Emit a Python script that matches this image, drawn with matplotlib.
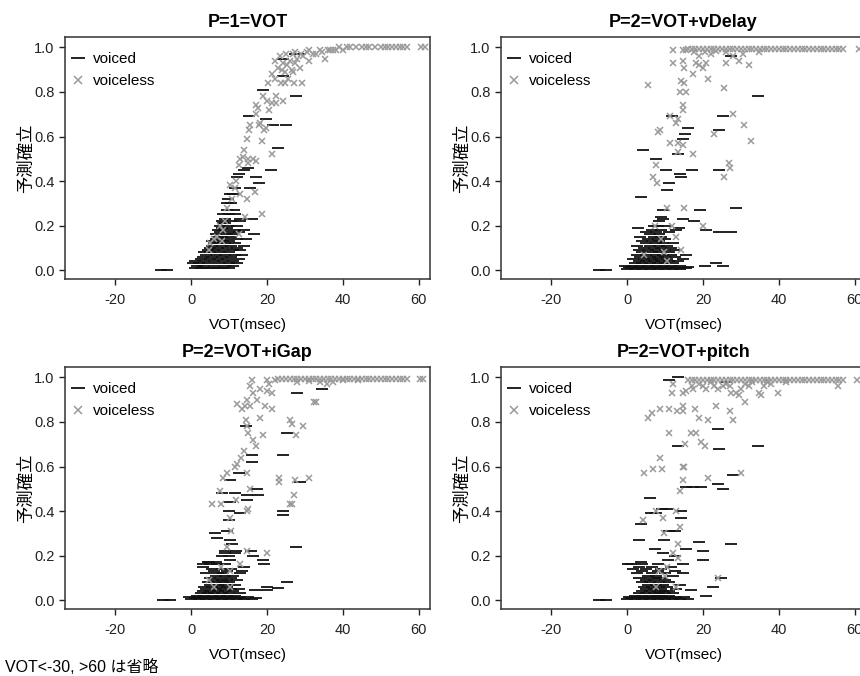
import matplotlib
matplotlib.use("Agg")
import matplotlib.pyplot as plt

plt.rcParams['font.family'] = ['Liberation Sans', 'Noto Sans CJK JP', 'DejaVu Sans']

titles = ["P=1=VOT", "P=2=VOT+vDelay", "P=2=VOT+iGap", "P=2=VOT+pitch"]
x_ticks = [-20, 0, 20, 40, 60]
y_ticks = [0.0, 0.2, 0.4, 0.6, 0.8, 1.0]
y_label = "予測確立"
x_label = "VOT(msec)"
note = "VOT<-30, >60 は省略"

# voiced tokens: (predicted prob, [VOT values at that level])
p1_voiced = [
    (0.002, [-8.0, -6.3]),
    (0.01, [1, 2.5, 4, 5.5, 7, 8.5, 10]),
    (0.02, [1.5, 3, 6, 9, 11]),
    (0.03, [0.5, 2, 4.5, 7.5, 10, 12]),
    (0.04, [1, 3.5, 6, 8.5, 11]),
    (0.05, [2.5, 5, 7, 9.5, 12.5]),
    (0.06, [3, 5.5, 8, 10.5]),
    (0.07, [4, 6.5, 9, 11.5, 13.5]),
    (0.08, [3.5, 5, 7.5, 10]),
    (0.09, [4.5, 6, 8.5, 11, 13]),
    (0.10, [5, 7, 9.5, 12]),
    (0.11, [5.5, 8, 10.5, 14]),
    (0.12, [6, 7.5, 9, 11.5]),
    (0.13, [5.5, 8.5, 10]),
    (0.14, [6.5, 9, 12, 14.5]),
    (0.15, [7, 8, 10.5]),
    (0.16, [6.5, 9.5, 11, 16.5]),
    (0.17, [7.5, 10, 12.5]),
    (0.18, [7, 8.5, 11.5, 14]),
    (0.19, [8, 9.5]),
    (0.20, [7.5, 10, 12]),
    (0.21, [8.5, 9]),
    (0.22, [8, 10.5, 13]),
    (0.23, [9, 12.9, 16.1]),
    (0.25, [8.5, 10, 11.5]),
    (0.27, [9.5, 11.2]),
    (0.30, [9.4, 10.5]),
    (0.32, [9.8]),
    (0.34, [10.3, 11]),
    (0.37, [11.5, 15.6]),
    (0.39, [17.8]),
    (0.42, [12.2, 17.2]),
    (0.43, [12.5]),
    (0.45, [14, 21.1]),
    (0.46, [15.1]),
    (0.55, [23.0]),
    (0.65, [21.6, 25.1]),
    (0.68, [19.8]),
    (0.69, [15.3]),
    (0.78, [27.7]),
    (0.81, [19.0]),
    (0.87, [24.3]),
    (0.95, [24.3]),
    (0.97, [27.4, 28.7]),
]

p2_voiced = [
    (0.0, [-7.5, -5.5]),
    (0.005, [0, 2, 4, 6, 8, 10, 12, 14]),
    (0.01, [1, 3, 5, 7, 9, 11, 13, 15.5]),
    (0.015, [0.5, 2.5, 4.5, 6.5, 8.5, 10.5, 12.5, 16]),
    (0.02, [-0.5, 1.5, 3.5, 5.5, 7.5, 9.5, 11.5, 14, 20.4, 25.3]),
    (0.03, [2, 4, 6, 8, 10, 12, 23.5]),
    (0.04, [3, 5, 7, 9, 11, 13.5]),
    (0.05, [1.5, 4.5, 6.5, 8.5, 10.5, 14.7]),
    (0.06, [3.5, 6, 8, 10, 12.5]),
    (0.07, [2.5, 5, 7.5, 9.5, 11.5, 15.5]),
    (0.08, [4, 6.5, 8.5, 11]),
    (0.09, [3, 5.5, 7.5, 10, 13]),
    (0.10, [4.5, 7, 9, 11.5]),
    (0.11, [2.5, 6, 8.5, 10.5]),
    (0.12, [5, 7.5, 9.5, 12]),
    (0.13, [4, 6.5, 8.5]),
    (0.14, [5.5, 8, 10]),
    (0.15, [3.5, 7, 9]),
    (0.16, [6, 8.5]),
    (0.17, [5, 7.5, 11, 24.2, 27.5]),
    (0.18, [6.5, 9, 13, 20.7]),
    (0.19, [2.9, 13.6]),
    (0.20, [7, 8, 10]),
    (0.22, [8.5, 17.6]),
    (0.23, [9.5, 14.7]),
    (0.24, [9.0]),
    (0.27, [9.4, 19.1]),
    (0.28, [28.7]),
    (0.33, [3.7]),
    (0.36, [10.4]),
    (0.39, [11.1]),
    (0.42, [14.2]),
    (0.43, [13.8]),
    (0.45, [10.2, 17.0, 24.2]),
    (0.50, [7.6]),
    (0.52, [13.4]),
    (0.54, [4.1]),
    (0.59, [14.8]),
    (0.61, [15.2]),
    (0.63, [24.1]),
    (0.64, [16.1]),
    (0.69, [11.7, 25.4]),
    (0.78, [34.6]),
    (0.96, [27.5]),
]

p3_voiced = [
    (0.0, [-7.5, -5.5]),
    (0.005, [0, 2, 4, 6, 8, 10, 12, 14, 16]),
    (0.01, [1, 3, 5, 7, 9, 11, 13, 17]),
    (0.015, [-0.5, 2, 4.5, 6.5, 8.5, 10.5, 12.5, 15]),
    (0.02, [1.5, 3.5, 5.5, 7.5, 9.5, 11.5]),
    (0.03, [2.5, 4.5, 6, 8, 10, 13]),
    (0.04, [3, 5, 7, 9, 11]),
    (0.045, [16.8, 19.9]),
    (0.05, [4, 6.5, 8.5, 10.5, 12.5]),
    (0.055, [23.0]),
    (0.06, [3.5, 5.5, 7.5, 9.5, 19.9]),
    (0.07, [5, 7, 9, 11.5]),
    (0.08, [4.5, 6.5, 8.5, 10, 25.2]),
    (0.09, [6, 8, 9.5, 12]),
    (0.10, [5, 7.5, 10.5]),
    (0.11, [6.5, 9, 11]),
    (0.12, [4, 7, 8.5, 13]),
    (0.13, [6, 9.5, 13.3]),
    (0.14, [5.5, 8, 10.5]),
    (0.15, [3.2, 14.0]),
    (0.16, [3, 5, 7, 9, 6.8, 19.3]),
    (0.17, [4.5, 6.5, 4.6]),
    (0.18, [10.3, 19.0]),
    (0.20, [8, 10, 16.4]),
    (0.21, [9, 11.5]),
    (0.22, [8.9, 11.8, 15.7]),
    (0.24, [27.6]),
    (0.25, [10.7]),
    (0.27, [10.3]),
    (0.28, [6.9]),
    (0.30, [6.3]),
    (0.31, [9.4]),
    (0.36, [10.1]),
    (0.38, [24.3]),
    (0.39, [12.9]),
    (0.40, [10.1, 24.1]),
    (0.44, [10.3]),
    (0.45, [14.6]),
    (0.47, [14.8, 17.7]),
    (0.48, [8.1, 11.6]),
    (0.50, [17.3]),
    (0.53, [28.7]),
    (0.54, [10.3]),
    (0.57, [12.5]),
    (0.62, [16.0]),
    (0.65, [16.0, 24.1]),
    (0.75, [25.4]),
    (0.78, [14.5]),
    (0.93, [27.8]),
    (0.95, [34.4]),
]

p4_voiced = [
    (0.0, [-7.5, -5.5]),
    (0.005, [0, 2, 4, 6, 8, 10, 12, 14, 16]),
    (0.01, [1, 3, 5, 7, 9, 11, 13]),
    (0.015, [0.5, 2.5, 4.5, 6.5, 8.5, 10.5, 12.5, 15]),
    (0.02, [2, 4, 6, 7.5, 9, 11, 20.8]),
    (0.03, [3, 5, 7, 8.5, 10, 12]),
    (0.04, [4, 6, 8, 9.5, 11]),
    (0.045, [16.8]),
    (0.05, [5, 7, 9, 13]),
    (0.06, [4.5, 6.5, 8.5, 10.5, 22.6]),
    (0.07, [5.5, 7.5, 9.5, 14]),
    (0.08, [4, 6, 8.5, 11]),
    (0.09, [5, 7, 10]),
    (0.10, [3, 6, 8, 9, 24.8]),
    (0.11, [5.5, 7.5, 12]),
    (0.12, [2.5, 6.5, 10, 14.6]),
    (0.13, [4, 8, 12.5]),
    (0.14, [1.5, 5, 9]),
    (0.15, [3, 6.5, 11.5]),
    (0.16, [1, 4, 8, 0.1, 14.6]),
    (0.17, [3.6]),
    (0.18, [10.7, 20.1]),
    (0.20, [12.5]),
    (0.21, [9.5]),
    (0.22, [19.9]),
    (0.23, [7.4, 15.5]),
    (0.25, [27.4]),
    (0.26, [18.9]),
    (0.27, [3.2, 9.8]),
    (0.31, [11.1, 12.5]),
    (0.34, [3.6]),
    (0.37, [14.2]),
    (0.39, [6.3, 7.5]),
    (0.40, [14.2]),
    (0.41, [9.3, 10.5]),
    (0.46, [6.0]),
    (0.50, [25.2]),
    (0.51, [15.5, 17.3, 19.5]),
    (0.52, [23.9]),
    (0.56, [28.0]),
    (0.68, [24.2]),
    (0.69, [13.3, 34.5]),
    (0.77, [23.9]),
    (0.98, [26.1]),
    (0.99, [11.1]),
    (1.0, [13.3]),
]

# voiceless tokens: (VOT, predicted prob)
p1_voiceless = [
    (4.6, 0.09), (5.0, 0.12), (5.9, 0.14), (6.8, 0.15), (7.5, 0.20), (8.3, 0.18),
    (8.0, 0.13), (9.0, 0.22), (9.5, 0.28), (10.3, 0.38), (10.7, 0.32), (11.6, 0.37),
    (11.7, 0.40), (12.5, 0.16), (12.9, 0.34), (12.5, 0.47), (13.0, 0.50), (13.6, 0.51),
    (13.8, 0.54), (14.1, 0.24), (14.6, 0.32), (14.6, 0.59), (14.9, 0.50), (15.0, 0.48),
    (15.2, 0.63), (15.5, 0.65), (16.3, 0.50), (16.8, 0.35), (17.0, 0.74), (17.2, 0.49),
    (17.2, 0.70), (17.6, 0.73), (17.9, 0.65), (18.2, 0.66), (18.6, 0.58), (18.8, 0.25),
    (19.0, 0.78), (19.2, 0.63), (19.7, 0.64), (19.9, 0.76), (20.3, 0.84), (20.5, 0.72),
    (21.2, 0.88), (21.2, 0.52), (21.2, 0.75), (22.0, 0.86), (22.3, 0.75), (22.5, 0.78),
    (22.0, 0.94), (23.0, 0.91), (23.5, 0.96), (23.7, 0.84), (24.0, 0.90), (24.1, 0.76),
    (24.3, 0.93), (24.7, 0.89), (24.7, 0.84), (25.0, 0.97), (25.3, 0.92), (25.5, 0.86),
    (26.0, 0.94), (26.5, 0.90), (26.9, 0.97), (26.9, 0.89), (27.0, 0.84), (27.5, 0.93),
    (27.5, 0.98), (28.0, 0.95), (28.7, 0.91), (29.0, 0.97), (29.1, 0.84), (29.5, 0.96),
    (30.5, 0.98), (31.0, 0.99), (31.2, 0.94), (32.0, 0.97), (33.0, 0.97), (33.9, 0.99),
    (34.5, 0.98), (35.2, 0.95), (36.0, 0.99), (36.6, 0.99), (37.5, 0.99), (38.3, 0.99),
    (39.0, 1.0), (40.1, 0.99), (41, 1.0), (42, 1.0), (43.5, 1.0), (45, 1.0), (46, 1.0),
    (47, 1.0), (48.5, 1.0), (50, 1.0), (51, 1.0), (52, 1.0), (53, 1.0), (54, 1.0),
    (55, 1.0), (56, 1.0), (57, 1.0), (60.7, 1.0), (61.6, 1.0),
]

p2_voiceless = [
    (4.4, 0.07), (5.4, 0.83), (6.8, 0.42), (7.4, 0.20), (7.7, 0.47), (7.8, 0.39),
    (8.1, 0.62), (8.7, 0.63), (9.0, 0.14), (9.7, 0.08), (10.5, 0.04), (10.6, 0.28),
    (11.2, 0.69), (11.2, 0.57), (11.9, 0.20), (12.0, 0.93), (12.0, 0.99), (12.8, 0.15),
    (12.9, 0.66), (13.4, 0.68), (13.4, 0.57), (13.4, 0.53), (14.0, 0.80), (14.3, 0.85),
    (14.3, 0.09), (14.6, 0.56), (14.6, 0.99), (14.7, 0.74), (14.7, 0.72), (14.8, 0.94),
    (14.9, 0.84), (14.9, 0.28), (15.1, 0.91), (15.4, 0.80), (15.5, 0.99), (17.3, 0.88),
    (17.4, 0.52), (17.5, 0.98), (18.2, 0.93), (19.0, 0.92), (19.0, 0.96), (19.9, 0.91),
    (20.1, 0.20), (20.5, 0.98), (20.7, 0.93), (21.2, 0.86), (22.0, 0.97), (22.8, 0.61),
    (23.5, 0.985), (25.6, 0.82), (25.6, 0.42), (26.0, 0.98), (26.1, 0.93), (26.8, 0.48),
    (27.2, 0.46), (27.8, 0.70), (27.9, 0.96), (29.6, 0.94), (30.5, 0.97), (30.9, 0.65),
    (32.2, 0.92), (32.7, 0.58), (34.8, 0.98),
    (16, 0.995), (17, 0.995), (18, 0.995), (19, 0.995), (20, 0.995), (21, 0.995),
    (22, 0.995), (23, 0.995), (24, 0.995), (25, 0.995), (26, 0.995), (27, 0.995),
    (28, 0.995), (29, 0.995), (30, 0.995), (31, 0.995), (32, 0.995), (33, 0.995),
    (34, 0.995), (35, 0.995), (36, 0.995), (37, 0.995), (38, 0.995), (39, 0.995),
    (40, 0.995), (41, 0.995), (42, 0.995), (43, 0.995), (44, 0.995), (45, 0.995),
    (46, 0.995), (47, 0.995), (48, 0.995), (49, 0.995), (50, 0.995), (51, 0.995),
    (52, 0.995), (53, 0.995), (54, 0.995), (55, 0.995), (56, 0.995), (57, 0.995),
    (61.2, 0.995),
]

p3_voiceless = [
    (4.6, 0.09), (5.9, 0.06), (5.5, 0.43), (7.5, 0.49), (7.8, 0.43), (7.8, 0.15),
    (8.5, 0.55), (9.4, 0.57), (9.4, 0.24), (10.3, 0.37), (10.3, 0.13), (10.3, 0.06),
    (10.6, 0.31), (11.6, 0.60), (11.8, 0.45), (12.0, 0.88), (12.2, 0.61), (12.9, 0.16),
    (13.1, 0.64), (13.3, 0.86), (13.8, 0.67), (14.2, 0.87), (14.5, 0.81), (14.6, 0.90),
    (14.6, 0.78), (14.6, 0.57), (14.6, 0.40), (14.9, 0.41), (14.8, 0.22), (15.1, 0.75),
    (15.5, 0.96), (15.5, 0.87), (15.5, 0.50), (16.0, 0.99), (16.4, 0.93), (16.4, 0.72),
    (17.1, 0.69), (17.3, 0.90), (18.2, 0.95), (18.2, 0.82), (18.9, 0.74), (19.5, 0.87),
    (19.9, 0.99), (19.9, 0.94), (19.9, 0.21), (20.5, 0.97), (21.2, 0.93), (21.2, 0.86),
    (22.0, 0.99), (23.2, 0.55), (23.2, 0.53), (26.1, 0.81), (26.5, 0.79), (26.1, 0.43),
    (26.7, 0.43), (27.1, 0.47), (27.4, 0.54), (27.6, 0.74), (28.0, 0.98), (29.6, 0.78),
    (31.0, 0.985), (31.1, 0.55), (32.4, 0.89), (32.9, 0.89), (34.0, 0.98), (35.7, 0.97),
    (37.5, 0.98), (40.0, 0.99), (44.0, 0.99),
    (23, 0.995), (24, 0.995), (25, 0.995), (26, 0.995), (27, 0.995), (28, 0.995),
    (29, 0.995), (30, 0.995), (31, 0.995), (32, 0.995), (33, 0.995), (34, 0.995),
    (35, 0.995), (36, 0.995), (37, 0.995), (38, 0.995), (39, 0.995), (40, 0.995),
    (41, 0.995), (42, 0.995), (43, 0.995), (44, 0.995), (45, 0.995), (46, 0.995),
    (47, 0.995), (48, 0.995), (49, 0.995), (50, 0.995), (51, 0.995), (52, 0.995),
    (53, 0.995), (54, 0.995), (55, 0.995), (56, 0.995), (57, 0.995), (60.3, 0.995),
    (61.2, 0.995),
]

p4_voiceless = [
    (4.2, 0.36), (4.3, 0.57), (5.4, 0.82), (6.5, 0.84), (6.9, 0.59), (7.6, 0.40),
    (7.6, 0.06), (8.5, 0.13), (8.7, 0.86), (8.7, 0.64), (9.2, 0.59), (9.5, 0.37),
    (9.8, 0.30), (10.4, 0.15), (10.0, 0.11), (11.1, 0.86), (11.1, 0.75), (11.8, 0.93),
    (12.0, 0.97), (12.0, 0.21), (12.9, 0.40), (12.9, 0.06), (13.1, 0.85), (13.3, 0.25),
    (13.3, 0.19), (13.9, 0.49), (13.9, 0.33), (14.6, 0.93), (14.6, 0.85), (14.6, 0.87),
    (14.6, 0.60), (15.0, 0.60), (14.6, 0.54), (15.3, 0.70), (15.5, 0.94), (16.8, 0.75),
    (17.0, 0.96), (17.3, 0.95), (18.0, 0.86), (18.2, 0.75), (18.9, 0.82), (19.0, 0.97),
    (19.5, 0.71), (20.0, 0.96), (20.6, 0.69), (20.8, 0.95), (21.3, 0.81), (21.3, 0.55),
    (22.0, 0.98), (23.0, 0.96), (23.5, 0.87), (23.9, 0.10), (24.0, 0.95), (25.2, 0.96),
    (26.0, 0.97), (27.0, 0.85), (27.0, 0.96), (27.4, 0.93), (28.0, 0.81), (28.7, 0.93),
    (29.6, 0.92), (30.0, 0.95), (30.1, 0.57), (31.0, 0.89), (31.0, 0.97), (32.0, 0.96),
    (33.0, 0.98), (34.9, 0.93), (35.3, 0.92), (36.0, 0.96), (37.0, 0.98), (38.0, 0.97),
    (39.8, 0.93), (42.0, 0.98), (55.6, 0.96), (60.5, 0.99),
    (16, 0.99), (17, 0.99), (18, 0.99), (19, 0.99), (20, 0.99), (21, 0.99),
    (22, 0.99), (23, 0.99), (24, 0.99), (25, 0.99), (26, 0.99), (27, 0.99),
    (28, 0.99), (29, 0.99), (30, 0.99), (31, 0.99), (32, 0.99), (33, 0.99),
    (34, 0.99), (35, 0.99), (36, 0.99), (37, 0.99), (38, 0.99), (39, 0.99),
    (40, 0.99), (41, 0.99), (42, 0.99), (43, 0.99), (44, 0.99), (45, 0.99),
    (46, 0.99), (47, 0.99), (48, 0.99), (49, 0.99), (50, 0.99), (51, 0.99),
    (52, 0.99), (53, 0.99), (54, 0.99), (55, 0.99), (56, 0.99), (57, 0.99),
]

voiced_sets = [p1_voiced, p2_voiced, p3_voiced, p4_voiced]
voiceless_sets = [p1_voiceless, p2_voiceless, p3_voiceless, p4_voiceless]


def unpack_rows(rows):
    xs, ys = [], []
    for y, row in rows:
        for x in row:
            xs.append(x)
            ys.append(y)
    return xs, ys


W, H = 860, 676
fig = plt.figure(figsize=(W / 100, H / 100), dpi=100)

# axes boxes in pixels: left, top (width/height shared)
boxes = [(65, 37), (501, 37), (65, 367), (501, 367)]
aw, ah = 365, 242

for i in range(4):
    left, top = boxes[i]
    ax = fig.add_axes([left / W, 1 - (top + ah) / H, aw / W, ah / H])

    vx, vy = unpack_rows(voiced_sets[i])
    ax.plot(vx, vy, linestyle="none", marker="_", markersize=8.5, markeredgewidth=1.3,
            color="#111111", label="voiced")
    ux = [p[0] for p in voiceless_sets[i]]
    uy = [p[1] for p in voiceless_sets[i]]
    ax.plot(ux, uy, linestyle="none", marker="x", markersize=5, markeredgewidth=1.1,
            color="#9a9a9a", label="voiceless")

    ax.set_xlim(-33.3, 63)
    ax.set_ylim(-0.04, 1.047)
    ax.set_xticks(x_ticks)
    ax.set_xticklabels([str(t) for t in x_ticks])
    ax.set_yticks(y_ticks)
    ax.set_yticklabels(["%.1f" % t for t in y_ticks])
    ax.tick_params(direction="out", length=4, width=1, labelsize=10.5, colors="#222222")
    ax.tick_params(axis="x", pad=6)
    for s in ax.spines.values():
        s.set_linewidth(1.1)
        s.set_color("#333333")

    ax.set_title(titles[i], fontsize=13, fontweight="bold", pad=7)
    ax.set_xlabel(x_label, fontsize=11, labelpad=8)
    ax.set_ylabel(y_label, fontsize=12.5, labelpad=0)

    ax.legend(loc="upper left", bbox_to_anchor=(0.019, 0.937), frameon=False,
              fontsize=11, handlelength=0.8, handletextpad=0.6, labelspacing=0.5,
              borderaxespad=0, borderpad=0, markerscale=1.15)

fig.text(5 / W, 1 - 667 / H, note, fontsize=11.5, va="center", ha="left")

fig.savefig("out.png", dpi=100)
